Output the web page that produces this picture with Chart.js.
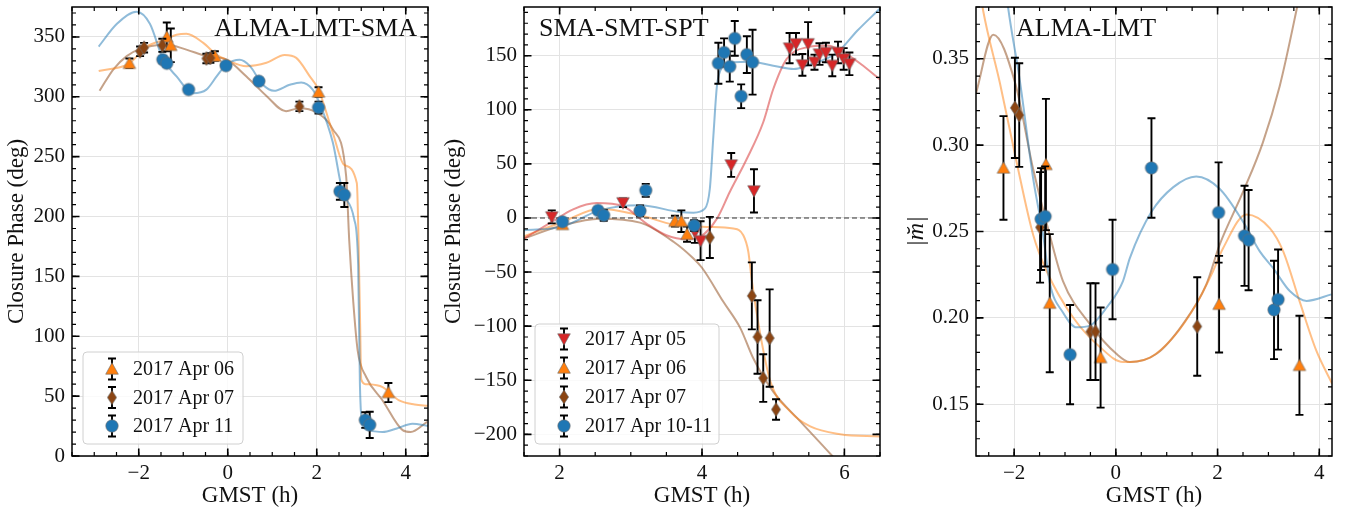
<!DOCTYPE html>
<html>
<head>
<meta charset="utf-8">
<script src="https://cdn.jsdelivr.net/npm/chart.js@4.4.1/dist/chart.umd.min.js"></script>
<style>
    html, body { margin: 0; padding: 0; background: #fff; }
    #wrap { position: relative; width: 1349px; height: 517px; overflow: hidden; }
    canvas { position: absolute; top: 0; }
</style>
</head>
<body>
<div id="wrap">
    <canvas id="c1" width="440" height="517" style="left:0px"></canvas>
    <canvas id="c2" width="450" height="517" style="left:440px"></canvas>
    <canvas id="c3" width="459" height="517" style="left:890px"></canvas>
</div>
<script>
// ---------- Panel 1: ALMA-LMT-SMA closure phase ----------
const p1XTicks = [-2, 0, 2, 4];
const p1YTicks = [0, 50, 100, 150, 200, 250, 300, 350];

const p1Apr06X = [-2.21, -1.37, -1.28, -0.29, 2.04, 3.61];
const p1Apr06Y = [328, 350, 343, 334, 304, 53];
const p1Apr06E = [4, 12, 14, 4, 4, 8];

const p1Apr07X = [-1.97, -1.88, -1.47, -0.48, -0.39, 1.61];
const p1Apr07Y = [338, 341, 343, 332, 332.5, 292];
const p1Apr07E = [4, 4, 5.5, 4, 4, 4];

const p1Apr11X = [-1.46, -1.37, -0.88, -0.04, 0.70, 2.04, 2.52, 2.62, 3.09, 3.19];
const p1Apr11Y = [331, 328, 306, 326, 313, 291, 221, 218, 30, 26];
const p1Apr11E = [3, 3, 2, 2, 2, 5, 7, 10, 6.5, 11];

const p1BlueX = [-2.9, -2.49, -2.05, -1.75, -1.46, -1.15, -0.78, -0.48, -0.25, -0.03, 0.27, 0.49, 0.79, 1.04, 1.39, 1.65, 1.91, 2.06, 2.36, 2.58, 2.84, 2.93, 2.97, 3.03, 3.2, 3.48, 3.8, 4.15, 4.5];
const p1BlueY = [342, 361, 371, 361, 332, 317, 303, 306, 317, 327, 331, 326, 310, 305, 310, 312, 306, 295, 262, 221, 198, 160, 60, 25, 21, 20, 23, 27, 25];
const p1OrangeX = [-2.9, -2.21, -1.82, -1.4, -1.15, -0.93, -0.55, -0.25, -0.03, 0.42, 0.87, 1.28, 1.54, 1.84, 2.04, 2.36, 2.62, 2.9, 2.97, 3.0, 3.1, 3.48, 3.85, 4.2, 4.5];
const p1OrangeY = [321.5, 328, 342, 348, 351.8, 352.7, 345, 335, 331, 325.6, 328.4, 335, 332.5, 317.3, 306, 270, 243, 228, 120, 64, 60, 57.5, 46.4, 43, 42];
const p1BrownX = [-2.88, -2.57, -2.27, -1.97, -1.6, -1.37, -0.93, -0.48, -0.03, 0.42, 0.87, 1.31, 1.61, 1.99, 2.36, 2.66, 2.73, 2.82, 2.92, 3.11, 3.48, 3.93, 4.11, 4.48];
const p1BrownY = [305, 323, 334, 340, 343, 343.5, 339.4, 334, 331, 317, 300.7, 288, 290.5, 287, 273, 234, 180, 129, 88, 66, 46.4, 21.6, 20, 28.5];

// ---------- Panel 2: SMA-SMT-SPT closure phase ----------
const p2XTicks = [2, 4, 6];
const p2YTicks = [-200, -150, -100, -50, 0, 50, 100, 150];

const p2Apr05X = [1.89, 2.89, 3.90, 3.98, 4.41, 4.73, 5.23, 5.32, 5.41, 5.49, 5.58, 5.65, 5.74, 5.83, 5.91, 5.99, 6.07];
const p2Apr05Y = [1, 14, -13, -21, 49, 25, 157, 161, 141.5, 161, 144, 151.5, 153, 141, 153, 147, 142.5];
const p2Apr05E = [6, 4, 10, 18, 11, 20, 14, 10, 10, 20, 7, 10, 9, 10, 10, 10, 10.5];

const p2Apr06X = [2.04, 3.62, 3.71, 3.79];
const p2Apr06Y = [-6, -3, -3, -15];
const p2Apr06E = [3, 5, 10, 7];

const p2Apr07X = [4.11, 4.70, 4.78, 4.86, 4.95, 5.04];
const p2Apr07Y = [-18, -72, -110, -148, -111, -177];
const p2Apr07E = [19, 31, 34, 22, 45, 9.5];

const p2Apr1011X = [2.04, 2.54, 2.62, 3.13, 3.21, 3.89, 4.23, 4.31, 4.39, 4.46, 4.55, 4.63, 4.71];
const p2Apr1011Y = [-3.5, 7, 2.5, 6.5, 25.5, -7, 143, 153, 140, 166, 112.5, 151, 144];
const p2Apr1011E = [2, 3, 5, 5, 6, 5, 19, 13, 14, 16, 11, 17, 30];

const p2BlueX = [1.5, 2.04, 2.56, 3.13, 3.69, 3.88, 4.04, 4.11, 4.16, 4.21, 4.28, 4.44, 4.67, 5.0, 5.29, 5.47, 5.9, 6.18, 6.5];
const p2BlueY = [-11.4, -8, 7, 11.7, 5.5, 4.9, 8.6, 27, 76, 122, 139, 144, 144.5, 140.8, 137.7, 140.8, 153, 173, 193.6];
const p2RedX = [1.5, 1.89, 2.19, 2.52, 2.89, 3.22, 3.5, 3.78, 3.97, 4.21, 4.39, 4.63, 4.86, 5.0, 5.19, 5.47, 5.76, 5.99, 6.23, 6.5];
const p2RedY = [-19, -3.7, 8, 13.8, 10.8, -5.2, -16, -19.7, -17.5, -0.6, 24, 54.7, 88.5, 119, 147, 157.7, 159.3, 153, 142.3, 128];
const p2OrangeX = [1.5, 2.04, 2.56, 3.13, 3.6, 4.07, 4.44, 4.58, 4.65, 4.7, 4.82, 4.96, 5.24, 5.52, 5.94, 6.5];
const p2OrangeY = [-17, -3.7, 8.6, 2.5, -6.1, -8.3, -9.8, -16, -31, -58, -108, -151, -179, -192.7, -199.8, -202];
const p2BrownX = [1.5, 2.04, 2.56, 3.13, 3.6, 3.88, 4.0, 4.3, 4.54, 4.72, 5.0, 5.38, 5.83, 6.2];
const p2BrownY = [-19, -6.8, -0.6, -4.3, -22, -37.5, -46, -77.5, -102, -129.7, -160.5, -188, -220, -248];

// ---------- Panel 3: ALMA-LMT |m| ----------
const p3XTicks = [-2, 0, 2, 4];
const p3YTicks = [0.15, 0.20, 0.25, 0.30, 0.35];

const p3Apr06X = [-2.21, -1.375, -1.30, -0.30, 2.03, 3.61];
const p3Apr06Y = [0.2868, 0.2888, 0.2085, 0.177, 0.2079, 0.1725];
const p3Apr06E = [0.030, 0.038, 0.040, 0.029, 0.028, 0.0287];

const p3Apr07X = [-1.985, -1.90, -1.49, -0.50, -0.40, 1.60];
const p3Apr07Y = [0.3216, 0.3174, 0.2524, 0.192, 0.192, 0.195];
const p3Apr07E = [0.029, 0.030, 0.032, 0.028, 0.028, 0.0285];

const p3Apr11X = [-1.47, -1.39, -0.90, -0.065, 0.70, 2.02, 2.53, 2.61, 3.11, 3.19];
const p3Apr11Y = [0.2572, 0.2587, 0.1787, 0.228, 0.2868, 0.261, 0.2475, 0.245, 0.2046, 0.2106];
const p3Apr11E = [0.0295, 0.029, 0.0287, 0.0288, 0.0288, 0.029, 0.029, 0.029, 0.0285, 0.029];

const p3BlueX = [-2.2, -2.12, -1.89, -1.625, -1.43, -1.30, -1.04, -0.77, -0.51, -0.18, 0.14, 0.275, 0.70, 1.13, 1.58, 2.04, 2.50, 2.83, 3.09, 3.42, 3.75, 4.24];
const p3BlueY = [0.40, 0.38, 0.3378, 0.2805, 0.248, 0.2203, 0.2031, 0.1945, 0.1955, 0.206, 0.2213, 0.2346, 0.2614, 0.2757, 0.2819, 0.2748, 0.2557, 0.2385, 0.2289, 0.2155, 0.2098, 0.2136];
const p3OrangeX = [-2.7, -2.61, -2.28, -1.95, -1.625, -1.36, -0.84, -0.31, 0.14, 0.67, 1.13, 1.58, 1.91, 2.11, 2.57, 3.03, 3.29, 3.61, 3.94, 4.25];
const p3OrangeY = [0.395, 0.378, 0.336, 0.290, 0.248, 0.227, 0.2002, 0.183, 0.1744, 0.177, 0.1888, 0.2079, 0.227, 0.2404, 0.2599, 0.2518, 0.2385, 0.2098, 0.1811, 0.162];
const p3BrownX = [-2.75, -2.41, -1.98, -1.625, -1.30, -1.04, -0.51, 0.01, 0.275, 0.80, 1.32, 1.78, 2.04, 2.50, 2.89, 3.22, 3.55, 3.7];
const p3BrownY = [0.330, 0.364, 0.336, 0.286, 0.248, 0.2213, 0.1964, 0.1792, 0.1744, 0.1792, 0.1964, 0.2194, 0.2423, 0.2729, 0.3015, 0.334, 0.378, 0.40];

// ---------- styling ----------
const FONT = '"Liberation Serif", "DejaVu Serif", serif';
const COL = { blue: '#1f77b4', orange: '#ff7f0e', brown: '#8b4513', red: '#d62728' };
const LINE = {
    blue: 'rgba(31,119,180,0.5)',
    orange: 'rgba(255,127,14,0.5)',
    brown: 'rgba(139,69,19,0.5)',
    red: 'rgba(214,39,40,0.5)'
};

function pts(xs, ys) {
    return xs.map((x, i) => ({ x: x, y: ys[i] }));
}

// marker images (matplotlib-like shapes)
function marker(shape, fill) {
    const s = 18, m = 9;
    const c = document.createElement('canvas');
    c.width = s; c.height = s;
    const g = c.getContext('2d');
    g.fillStyle = fill;
    g.strokeStyle = 'rgba(110,110,110,0.8)';
    g.lineWidth = 0.8;
    g.beginPath();
    if (shape === 'circle') {
        g.arc(m, m, 6.2, 0, Math.PI * 2);
    } else if (shape === 'up') {
        g.moveTo(m, m - 6.3); g.lineTo(m + 6.3, m + 5.2); g.lineTo(m - 6.3, m + 5.2); g.closePath();
    } else if (shape === 'down') {
        g.moveTo(m, m + 6.3); g.lineTo(m + 6.3, m - 5.2); g.lineTo(m - 6.3, m - 5.2); g.closePath();
    } else {
        g.moveTo(m, m - 7); g.lineTo(m + 4.6, m); g.lineTo(m, m + 7); g.lineTo(m - 4.6, m); g.closePath();
    }
    g.fill();
    g.stroke();
    return c;
}

const MK = {
    up: marker('up', COL.orange),
    down: marker('down', COL.red),
    diamond: marker('diamond', COL.brown),
    circle: marker('circle', COL.blue)
};

// error bars, drawn just below each marker dataset
const errorBars = {
    id: 'errorBars',
    beforeDatasetDraw(chart, args) {
        const ds = chart.data.datasets[args.index];
        if (!ds.errors) return;
        const { ctx, chartArea: a, scales: { x, y } } = chart;
        ctx.save();
        ctx.beginPath();
        ctx.rect(a.left, a.top, a.right - a.left, a.bottom - a.top);
        ctx.clip();
        ctx.strokeStyle = '#000';
        ctx.lineWidth = 1.9;
        ds.data.forEach((d, i) => {
            const px = x.getPixelForValue(d.x);
            const y1 = y.getPixelForValue(d.y + ds.errors[i]);
            const y2 = y.getPixelForValue(d.y - ds.errors[i]);
            ctx.beginPath();
            ctx.moveTo(px, y1); ctx.lineTo(px, y2);
            ctx.moveTo(px - 4, y1); ctx.lineTo(px + 4, y1);
            ctx.moveTo(px - 4, y2); ctx.lineTo(px + 4, y2);
            ctx.stroke();
        });
        ctx.restore();
    }
};

// frame with inward major/minor ticks on all four sides
const frame = {
    id: 'frame',
    afterDatasetsDraw(chart, args, o) {
        const { ctx, chartArea: a, scales: { x, y } } = chart;
        ctx.save();
        ctx.strokeStyle = '#000';
        const tickX = (v, len, w) => {
            const p = x.getPixelForValue(v);
            ctx.lineWidth = w;
            ctx.beginPath();
            ctx.moveTo(p, a.bottom); ctx.lineTo(p, a.bottom - len);
            ctx.moveTo(p, a.top); ctx.lineTo(p, a.top + len);
            ctx.stroke();
        };
        const tickY = (v, len, w) => {
            const p = y.getPixelForValue(v);
            ctx.lineWidth = w;
            ctx.beginPath();
            ctx.moveTo(a.left, p); ctx.lineTo(a.left + len, p);
            ctx.moveTo(a.right, p); ctx.lineTo(a.right - len, p);
            ctx.stroke();
        };
        for (let k = Math.ceil(x.min / o.xMinor - 1e-6); k * o.xMinor <= x.max + 1e-9; k++) tickX(k * o.xMinor, 4, 1.2);
        for (let k = Math.ceil(y.min / o.yMinor - 1e-6); k * o.yMinor <= y.max + 1e-9; k++) tickY(k * o.yMinor, 4, 1.2);
        x.ticks.forEach(t => tickX(t.value, 7.5, 1.6));
        y.ticks.forEach(t => tickY(t.value, 7.5, 1.6));
        ctx.lineWidth = 1.5;
        ctx.strokeRect(a.left, a.top, a.right - a.left, a.bottom - a.top);
        ctx.restore();
    }
};

// legend box with errorbar handles
const legendBox = {
    id: 'legendBox',
    afterDraw(chart, args, o) {
        if (!o || !o.box) return;
        const ctx = chart.ctx, b = o.box;
        ctx.save();
        ctx.beginPath();
        ctx.roundRect(b.x, b.y, b.w, b.h, 4);
        ctx.fillStyle = 'rgba(255,255,255,0.8)';
        ctx.fill();
        ctx.strokeStyle = '#d0d0d0';
        ctx.lineWidth = 1;
        ctx.stroke();
        const entries = chart.data.datasets.filter(d => d.label);
        entries.forEach((d, i) => {
            const cy = b.y + o.first + i * o.rowH;
            const cx = b.x + o.markerDx;
            ctx.strokeStyle = '#000';
            ctx.lineWidth = 1.9;
            ctx.beginPath();
            ctx.moveTo(cx, cy - 10.5); ctx.lineTo(cx, cy + 10.5);
            ctx.moveTo(cx - 4, cy - 10.5); ctx.lineTo(cx + 4, cy - 10.5);
            ctx.moveTo(cx - 4, cy + 10.5); ctx.lineTo(cx + 4, cy + 10.5);
            ctx.stroke();
            const img = d.pointStyle;
            ctx.drawImage(img, cx - img.width / 2, cy - img.height / 2);
            ctx.fillStyle = '#111';
            ctx.font = '20px ' + FONT;
            ctx.textAlign = 'left';
            ctx.textBaseline = 'middle';
            ctx.fillText(d.label, b.x + o.textDx, cy + 1);
        });
        ctx.restore();
    }
};

const panelText = {
    id: 'panelText',
    afterDraw(chart, args, o) {
        if (!o || !o.text) return;
        const ctx = chart.ctx;
        ctx.save();
        ctx.font = '26px ' + FONT;
        ctx.fillStyle = '#111';
        ctx.textAlign = o.align;
        ctx.textBaseline = 'middle';
        ctx.fillText(o.text, o.x, o.y);
        ctx.restore();
    }
};

function fmtNum(v) {
    return (v < 0 ? '\u2212' : '') + Math.abs(v);
}

function buildPanel(id, p) {
    const datasets = [];
    p.curves.forEach(cv => {
        datasets.push({
            data: pts(cv.x, cv.y),
            showLine: true,
            borderColor: cv.color,
            borderWidth: 2,
            pointRadius: 0,
            cubicInterpolationMode: 'monotone',
            order: 20
        });
    });
    if (p.zeroLine) {
        datasets.push({
            data: pts([p.xMin, p.xMax], [0, 0]),
            showLine: true,
            borderColor: '#333',
            borderWidth: 1.2,
            borderDash: [5, 3],
            pointRadius: 0,
            order: 15
        });
    }
    p.series.forEach((s, i) => {
        datasets.push({
            label: s.label,
            data: pts(s.x, s.y),
            errors: s.err,
            pointStyle: s.marker,
            pointRadius: 6,
            order: 10 - i
        });
    });

    return new Chart(document.getElementById(id), {
        type: 'scatter',
        data: { datasets },
        options: {
            responsive: false,
            animation: false,
            events: [],
            layout: { padding: { left: 0, top: 4, right: p.padRight, bottom: 0 } },
            plugins: {
                legend: { display: false },
                tooltip: { enabled: false },
                frame: { xMinor: 0.5, yMinor: p.yMinor },
                legendBox: p.legend || {},
                panelText: p.text
            },
            scales: {
                x: {
                    type: 'linear',
                    min: p.xMin,
                    max: p.xMax,
                    afterBuildTicks: s => { s.ticks = p.xTicks.map(v => ({ value: v })); },
                    ticks: {
                        padding: 5, color: '#111',
                        maxRotation: 0, autoSkip: false,
                        font: { family: FONT, size: 21 },
                        callback: fmtNum
                    },
                    grid: { color: '#e3e3e3', lineWidth: 1, drawTicks: false },
                    border: { display: false },
                    title: {
                        display: true, text: 'GMST (h)', color: '#111',
                        font: { family: FONT, size: 23 },
                        padding: { top: 0, bottom: 7 }
                    },
                    afterFit: s => { s.height = 61; s.paddingLeft = 0; s.paddingRight = 0; }
                },
                y: {
                    type: 'linear',
                    min: p.yMin,
                    max: p.yMax,
                    afterBuildTicks: s => { s.ticks = p.yTicks.map(v => ({ value: v })); },
                    ticks: {
                        padding: 7, color: '#111',
                        autoSkip: false,
                        font: { family: FONT, size: 21 },
                        callback: p.yFmt
                    },
                    grid: { color: '#e3e3e3', lineWidth: 1, drawTicks: false },
                    border: { display: false },
                    title: {
                        display: true, text: p.yTitle, color: '#111',
                        font: p.yTitleFont,
                        padding: { top: p.yTitlePad, bottom: 0 }
                    },
                    afterFit: s => { s.width = p.left; s.paddingTop = 0; s.paddingBottom = 0; }
                }
            }
        },
        plugins: [errorBars, frame, legendBox, panelText]
    });
}

buildPanel('c1', {
    left: 72, padRight: 12,
    xMin: -3.5, xMax: 4.5, yMin: 0, yMax: 375, yMinor: 10,
    xTicks: p1XTicks, yTicks: p1YTicks,
    yFmt: fmtNum,
    yTitle: 'Closure Phase (deg)', yTitleFont: { family: FONT, size: 23 }, yTitlePad: 3,
    curves: [
        { x: p1BlueX, y: p1BlueY, color: LINE.blue },
        { x: p1OrangeX, y: p1OrangeY, color: LINE.orange },
        { x: p1BrownX, y: p1BrownY, color: LINE.brown }
    ],
    series: [
        { label: '2017 Apr 06', x: p1Apr06X, y: p1Apr06Y, err: p1Apr06E, marker: MK.up },
        { label: '2017 Apr 07', x: p1Apr07X, y: p1Apr07Y, err: p1Apr07E, marker: MK.diamond },
        { label: '2017 Apr 11', x: p1Apr11X, y: p1Apr11Y, err: p1Apr11E, marker: MK.circle }
    ],
    legend: { box: { x: 83, y: 352, w: 160, h: 92 }, first: 17, rowH: 28.5, markerDx: 29, textDx: 50 },
    text: { text: 'ALMA-LMT-SMA', x: 417, y: 29, align: 'right' }
});

buildPanel('c2', {
    left: 84, padRight: 10,
    xMin: 1.5, xMax: 6.5, yMin: -220, yMax: 195, yMinor: 10,
    xTicks: p2XTicks, yTicks: p2YTicks,
    yFmt: fmtNum, zeroLine: true,
    yTitle: 'Closure Phase (deg)', yTitleFont: { family: FONT, size: 23 }, yTitlePad: 0,
    curves: [
        { x: p2BlueX, y: p2BlueY, color: LINE.blue },
        { x: p2RedX, y: p2RedY, color: LINE.red },
        { x: p2OrangeX, y: p2OrangeY, color: LINE.orange },
        { x: p2BrownX, y: p2BrownY, color: LINE.brown }
    ],
    series: [
        { label: '2017 Apr 05', x: p2Apr05X, y: p2Apr05Y, err: p2Apr05E, marker: MK.down },
        { label: '2017 Apr 06', x: p2Apr06X, y: p2Apr06Y, err: p2Apr06E, marker: MK.up },
        { label: '2017 Apr 07', x: p2Apr07X, y: p2Apr07Y, err: p2Apr07E, marker: MK.diamond },
        { label: '2017 Apr 10-11', x: p2Apr1011X, y: p2Apr1011Y, err: p2Apr1011E, marker: MK.circle }
    ],
    legend: { box: { x: 95, y: 324, w: 184, h: 120 }, first: 15, rowH: 29, markerDx: 29, textDx: 50 },
    text: { text: 'SMA-SMT-SPT', x: 99, y: 29, align: 'left' }
});

buildPanel('c3', {
    left: 86, padRight: 17,
    xMin: -2.75, xMax: 4.25, yMin: 0.12, yMax: 0.38, yMinor: 0.01,
    xTicks: p3XTicks, yTicks: p3YTicks,
    yFmt: v => v.toFixed(2),
    yTitle: '|m\u0306|', yTitleFont: { family: FONT, size: 24, style: 'italic' }, yTitlePad: 12,
    curves: [
        { x: p3BlueX, y: p3BlueY, color: LINE.blue },
        { x: p3OrangeX, y: p3OrangeY, color: LINE.orange },
        { x: p3BrownX, y: p3BrownY, color: LINE.brown }
    ],
    series: [
        { label: null, x: p3Apr06X, y: p3Apr06Y, err: p3Apr06E, marker: MK.up },
        { label: null, x: p3Apr07X, y: p3Apr07Y, err: p3Apr07E, marker: MK.diamond },
        { label: null, x: p3Apr11X, y: p3Apr11Y, err: p3Apr11E, marker: MK.circle }
    ],
    text: { text: 'ALMA-LMT', x: 126, y: 29, align: 'left' }
});
</script>
</body>
</html>
